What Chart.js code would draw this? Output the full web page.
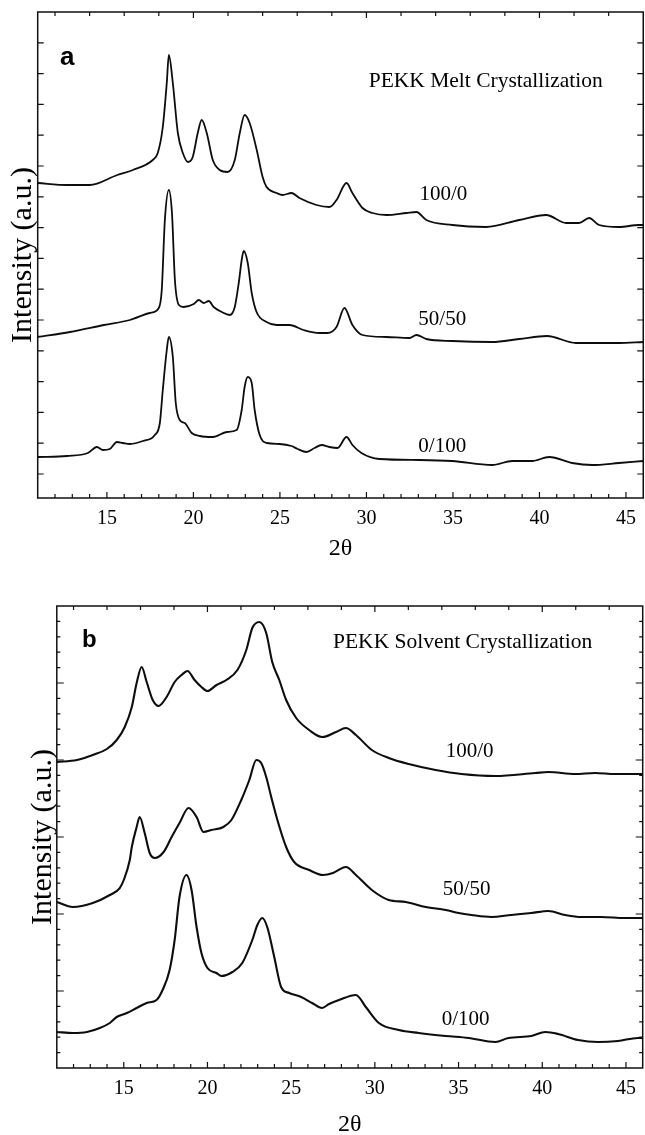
<!DOCTYPE html>
<html>
<head>
<meta charset="utf-8">
<script src="https://cdn.jsdelivr.net/npm/chart.js@4.4.1/dist/chart.umd.min.js"></script>
<style>
  html, body { margin: 0; padding: 0; background: #fff; overflow: hidden; }
  .panel { position: absolute; left: 0; }
  #pa { top: 0; }
  #pb { top: 570px; }
</style>
</head>
<body>
<div class="panel" id="pa"><canvas id="chartA" width="645" height="570"></canvas></div>
<div class="panel" id="pb"><canvas id="chartB" width="645" height="570"></canvas></div>
<script>
// ── DATA: 2θ (deg) and intensity (a.u.) ──────────────────────────────
const xMajor = [15, 20, 25, 30, 35, 40, 45];

// panel a — melt crystallization
const tA100 = [11.0, 12.7, 14.0, 15.6, 16.5, 17.65, 17.94, 18.23, 18.46, 18.58, 18.81, 19.10, 19.39, 19.68, 19.96, 20.25, 20.48, 20.77, 21.12, 21.52, 21.98, 22.39, 22.68, 22.96, 23.25, 23.66, 24.00, 24.23, 24.81, 25.15, 25.67, 26.13, 27.11, 27.86, 28.27, 28.85, 29.19, 29.77, 30.35, 31.16, 32.31, 32.89, 33.46, 34.96, 36.92, 38.83, 40.39, 41.54, 42.29, 42.87, 43.45, 44.60, 45.75, 46.0];
const iA100 = [291, 289, 289, 299, 304, 314, 321, 347, 391, 419, 391, 341, 321, 312, 317, 341, 354, 341, 314, 304, 302, 314, 341, 359, 351, 324, 297, 287, 281, 279, 281, 276, 269, 267, 274, 291, 281, 266, 261, 259, 261, 262, 254, 249, 247, 254, 259, 251, 251, 256, 249, 247, 249, 249];

const tA50 = [11.0, 12.86, 14.83, 16.33, 17.48, 18.00, 18.17, 18.35, 18.58, 18.76, 18.93, 19.16, 19.44, 20.02, 20.31, 20.60, 20.89, 21.17, 21.64, 22.10, 22.39, 22.62, 22.79, 22.91, 23.14, 23.37, 23.65, 24.23, 24.81, 25.56, 26.37, 27.29, 27.75, 28.27, 28.73, 29.19, 29.77, 31.16, 32.49, 32.89, 33.46, 34.96, 37.27, 38.83, 40.44, 42.11, 44.60, 46.0];
const iA50 = [137, 142, 149, 154, 161, 166, 184, 254, 284, 261, 194, 169, 167, 170, 174, 171, 173, 167, 162, 159, 167, 191, 214, 223, 211, 181, 162, 152, 149, 149, 144, 141, 141, 147, 166, 149, 139, 137, 136, 139, 135, 133, 132, 135, 138, 131, 131, 132];

const tA0 = [11.0, 12.69, 13.90, 14.42, 14.77, 15.17, 15.58, 15.92, 16.33, 17.08, 17.77, 18.06, 18.23, 18.46, 18.58, 18.81, 18.98, 19.21, 19.50, 19.90, 20.37, 21.12, 21.93, 22.50, 22.79, 22.96, 23.14, 23.37, 23.54, 23.83, 24.23, 24.98, 25.67, 26.02, 26.54, 27.00, 27.41, 27.86, 28.33, 28.85, 29.19, 29.71, 30.75, 33.06, 34.96, 37.27, 38.43, 39.58, 40.56, 41.89, 43.04, 44.60, 46.0];
const iA0 = [17, 18, 21, 27, 24, 25, 32, 31, 30, 33, 39, 51, 84, 124, 137, 117, 71, 54, 51, 41, 38, 37, 42, 44, 64, 87, 97, 91, 64, 39, 31, 30, 28, 25, 22, 26, 29, 27, 26, 37, 29, 21, 15, 14, 13, 9, 13, 13, 17, 11, 9, 11, 13];

// panel b — solvent crystallization
const tB100 = [11.0, 12.20, 13.15, 13.99, 14.58, 15.06, 15.48, 15.77, 16.07, 16.37, 16.73, 17.08, 17.56, 18.04, 18.45, 18.81, 19.23, 19.64, 20.00, 20.54, 21.13, 21.79, 22.32, 22.68, 23.10, 23.51, 23.87, 24.29, 24.70, 25.30, 26.07, 26.85, 27.68, 28.27, 28.87, 29.82, 30.83, 32.02, 33.63, 35.18, 37.20, 39.58, 40.36, 41.96, 43.15, 44.35, 46.0];
const iB100 = [306, 308, 313, 319, 328, 341, 361, 385, 401, 386, 368, 362, 371, 386, 393, 397, 388, 381, 377, 383, 388, 398, 418, 440, 446, 435, 406, 388, 368, 350, 338, 331, 336, 340, 333, 318, 310, 304, 298, 294, 292, 295, 296, 294, 295, 294, 294];

const tB50 = [11.0, 11.96, 13.15, 14.17, 14.76, 15.00, 15.36, 15.48, 15.77, 15.95, 16.25, 16.55, 16.85, 17.38, 17.86, 18.33, 18.87, 19.35, 19.76, 20.24, 20.95, 21.43, 22.02, 22.50, 22.92, 23.21, 23.51, 23.81, 24.23, 24.70, 25.18, 26.07, 26.90, 27.50, 28.27, 28.87, 29.82, 30.83, 31.85, 33.04, 34.23, 35.00, 35.77, 36.96, 38.15, 39.35, 40.36, 41.37, 42.32, 43.51, 44.94, 46.0];
const iB50 = [166, 161, 165, 173, 180, 188, 208, 221, 241, 251, 235, 215, 210, 216, 231, 245, 260, 251, 236, 238, 241, 248, 268, 288, 308, 305, 291, 271, 245, 221, 206, 198, 193, 195, 201, 193, 178, 168, 166, 161, 158, 155, 153, 151, 153, 155, 157, 153, 151, 151, 150, 150];

const tB0 = [11.0, 11.96, 12.80, 13.57, 14.17, 14.58, 15.18, 15.77, 16.37, 16.96, 17.32, 17.74, 18.04, 18.33, 18.75, 19.05, 19.35, 19.64, 20.00, 20.54, 20.83, 21.49, 22.08, 22.68, 22.98, 23.27, 23.57, 23.99, 24.40, 24.88, 25.60, 26.25, 26.85, 27.26, 27.86, 28.87, 29.46, 30.24, 31.43, 32.62, 34.23, 35.60, 37.20, 37.98, 39.35, 40.18, 40.95, 42.14, 43.33, 44.52, 45.71, 46.0];
const iB0 = [36, 35, 36, 40, 45, 51, 55, 60, 65, 68, 78, 98, 128, 171, 193, 178, 141, 115, 100, 95, 92, 96, 105, 128, 143, 150, 141, 111, 81, 75, 71, 65, 60, 64, 68, 73, 61, 45, 38, 35, 32, 30, 26, 30, 32, 36, 34, 28, 26, 27, 30, 30];

const SERIF = '"Liberation Serif", "Times New Roman", serif';
const SANS = '"Liberation Sans", Arial, sans-serif';

// ── tick marks (inward) on all four sides + text notes ───────────────
function bottomTicks(maj, mn) {
  const out = [];
  for (let v = 12; v <= 45; v++) out.push([v, xMajor.includes(v) ? maj : mn]);
  return out;
}
function topTicks(maj, mn) {
  const out = [];
  for (let v = 12; v <= 44; v += 2) out.push([v, v % 10 === 0 ? maj : mn]);
  return out;
}
function sideTicks(step, n, every, maj, mn) {
  const out = [];
  for (let k = 0; k <= n; k++) out.push([k * step, k % every === 0 ? maj : mn]);
  return out;
}

const framePlugin = {
  id: 'frame',
  afterDatasetsDraw(chart, args, o) {
    const { ctx, chartArea: a, scales: { x, y } } = chart;
    ctx.save();
    ctx.strokeStyle = '#111';
    ctx.lineWidth = 1.5;
    ctx.strokeRect(a.left, a.top, a.right - a.left, a.bottom - a.top);
    ctx.lineWidth = 1.2;
    ctx.beginPath();
    o.bottom.forEach(([v, len]) => {
      const p = x.getPixelForValue(v);
      ctx.moveTo(p, a.bottom); ctx.lineTo(p, a.bottom - len);
    });
    o.top.forEach(([v, len]) => {
      const p = x.getPixelForValue(v);
      ctx.moveTo(p, a.top); ctx.lineTo(p, a.top + len);
    });
    o.side.forEach(([v, len]) => {
      const p = y.getPixelForValue(v);
      if (p <= a.top + 1 || p >= a.bottom - 1) return;
      ctx.moveTo(a.left, p); ctx.lineTo(a.left + len, p);
      ctx.moveTo(a.right, p); ctx.lineTo(a.right - len, p);
    });
    ctx.stroke();
    ctx.fillStyle = '#000';
    ctx.textAlign = 'left';
    ctx.textBaseline = 'alphabetic';
    o.notes.forEach(n => {
      ctx.font = n.font;
      ctx.fillText(n.text, x.getPixelForValue(n.x), y.getPixelForValue(n.y));
    });
    ctx.restore();
  }
};

function makeChart(id, series, cfg) {
  return new Chart(document.getElementById(id), {
    type: 'line',
    data: {
      datasets: series.map(s => ({
        data: s.t.map((t, i) => ({ x: t, y: s.v[i] })),
        borderColor: '#0d0d0d',
        borderWidth: cfg.lw,
        pointRadius: 0,
        cubicInterpolationMode: 'monotone',
        fill: false
      }))
    },
    options: {
      responsive: false, animation: false, events: [],
      layout: { padding: { left: 0, top: cfg.top, right: 1.5, bottom: 0 } },
      plugins: {
        legend: { display: false },
        tooltip: { enabled: false },
        frame: { bottom: bottomTicks(6, 4), top: topTicks(6, 4), side: cfg.side, notes: cfg.notes }
      },
      scales: {
        x: {
          type: 'linear', min: 11, max: 46,
          afterBuildTicks: s => { s.ticks = xMajor.map(v => ({ value: v })); },
          afterFit: s => { s.height = cfg.xh; },
          grid: { display: false, drawTicks: false },
          border: { display: false },
          ticks: { color: '#000', font: { family: SERIF, size: 20 }, padding: 9, maxRotation: 0, autoSkip: false },
          title: { display: true, text: '2θ', color: '#000', font: { family: SERIF, size: 24 }, padding: { top: 0, bottom: cfg.xtPad } }
        },
        y: {
          type: 'linear', min: cfg.ymin, max: cfg.ymax,
          afterFit: s => { s.width = cfg.left; },
          grid: { display: false, drawTicks: false },
          border: { display: false },
          ticks: { display: false },
          title: { display: true, text: 'Intensity (a.u.)', color: '#000', font: { family: SERIF, size: 30 }, padding: { top: cfg.ytPad, bottom: 0 } }
        }
      }
    },
    plugins: [framePlugin]
  });
}

makeChart('chartA', [
  { t: tA100, v: iA100 },
  { t: tA50, v: iA50 },
  { t: tA0, v: iA0 }
], {
  lw: 1.8, top: 12, left: 37.7, xh: 72, xtPad: 6.6, ytPad: 5,
  ymin: -24, ymax: 462,
  side: sideTicks(30.8, 14, 1, 6, 6),
  notes: [
    { text: 'a', x: 12.29, y: 409, font: `700 26px ${SANS}` },
    { text: 'PEKK Melt Crystallization', x: 30.13, y: 386.7, font: `21.5px ${SERIF}` },
    { text: '100/0', x: 33.06, y: 274, font: `21px ${SERIF}` },
    { text: '50/50', x: 33.0, y: 149, font: `21px ${SERIF}` },
    { text: '0/100', x: 33.0, y: 22, font: `21px ${SERIF}` }
  ]
});

makeChart('chartB', [
  { t: tB100, v: iB100 },
  { t: tB50, v: iB50 },
  { t: tB0, v: iB0 }
], {
  lw: 2.1, top: 36, left: 56.8, xh: 72, xtPad: 1.1, ytPad: 25,
  ymin: 0, ymax: 462,
  side: sideTicks(15.4, 30, 5, 7, 3.5),
  notes: [
    { text: 'b', x: 12.5, y: 421, font: `700 24px ${SANS}` },
    { text: 'PEKK Solvent Crystallization', x: 27.5, y: 419.7, font: `21.5px ${SERIF}` },
    { text: '100/0', x: 34.23, y: 311, font: `21px ${SERIF}` },
    { text: '50/50', x: 34.05, y: 173, font: `21px ${SERIF}` },
    { text: '0/100', x: 33.99, y: 43, font: `21px ${SERIF}` }
  ]
});
</script>
</body>
</html>
